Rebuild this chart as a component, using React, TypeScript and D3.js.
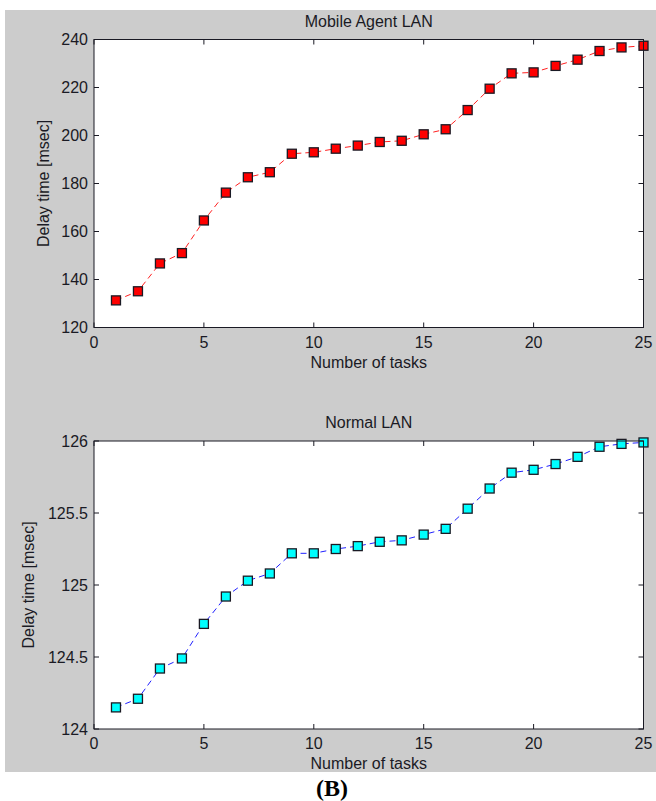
import React from 'react';
import * as d3 from 'd3';

// number of tasks, 1..25
const tasks = [1, 2, 3, 4, 5, 6, 7, 8, 9, 10, 11, 12, 13, 14, 15, 16, 17, 18, 19, 20, 21, 22, 23, 24, 25];

// delay time [msec]
const mobileAgentDelay = [
  131.3, 135.1, 146.7, 151.0, 164.6, 176.2, 182.6, 184.7, 192.4, 193.0, 194.5, 195.8, 197.3,
  197.8, 200.5, 202.6, 210.6, 219.5, 225.9, 226.3, 229.0, 231.6, 235.2, 236.7, 237.4,
];
const normalLanDelay = [
  124.15, 124.21, 124.42, 124.49, 124.73, 124.92, 125.03, 125.08, 125.22, 125.22, 125.25, 125.27, 125.3,
  125.31, 125.35, 125.39, 125.53, 125.67, 125.78, 125.8, 125.84, 125.89, 125.96, 125.98, 125.99,
];

const xTicks = [0, 5, 10, 15, 20, 25];
const mobileYTicks = [120, 140, 160, 180, 200, 220, 240];
const normalYTicks = [124, 124.5, 125, 125.5, 126];

const W = 656;
const H = 801;
const FONT = "'Liberation Sans', Arial, sans-serif";
const INK = '#1a1a24';

type PanelProps = {
  title: string;
  values: number[];
  yTicks: number[];
  top: number;
  bottom: number;
  lineColor: string;
  markerColor: string;
  yLabelX: number;
};

function Panel({ title, values, yTicks, top, bottom, lineColor, markerColor, yLabelX }: PanelProps) {
  const left = 94;
  const right = 643.5;
  const x = d3.scaleLinear().domain([0, 25]).range([left, right]);
  const y = d3
    .scaleLinear()
    .domain([yTicks[0], yTicks[yTicks.length - 1]])
    .range([bottom, top]);

  const line = d3
    .line<number>()
    .x((d, i) => x(tasks[i]))
    .y((d) => y(d));

  const tick = 5;
  const ms = 9;

  return (
    <g>
      <rect x={left} y={top} width={right - left} height={bottom - top} fill="#fff" />
      <path d={line(values) || ''} fill="none" stroke={lineColor} strokeWidth={1} strokeDasharray="6 4" />
      {values.map((v, i) => (
        <rect
          key={i}
          x={x(tasks[i]) - ms / 2}
          y={y(v) - ms / 2}
          width={ms}
          height={ms}
          fill={markerColor}
          stroke={INK}
          strokeWidth={1.3}
        />
      ))}
      <rect x={left} y={top} width={right - left} height={bottom - top} fill="none" stroke={INK} strokeWidth={1} />

      {xTicks.map((t) => (
        <g key={'x' + t}>
          <line x1={x(t)} x2={x(t)} y1={bottom} y2={bottom - tick} stroke={INK} />
          <line x1={x(t)} x2={x(t)} y1={top} y2={top + tick} stroke={INK} />
          <text x={x(t)} y={bottom + 20} textAnchor="middle" fontSize={16} fill={INK}>
            {t}
          </text>
        </g>
      ))}
      {yTicks.map((t) => (
        <g key={'y' + t}>
          <line x1={left} x2={left + tick} y1={y(t)} y2={y(t)} stroke={INK} />
          <line x1={right} x2={right - tick} y1={y(t)} y2={y(t)} stroke={INK} />
          <text x={left - 6} y={y(t)} dy="0.36em" textAnchor="end" fontSize={16} fill={INK}>
            {t}
          </text>
        </g>
      ))}

      <text x={(left + right) / 2} y={top - 13} textAnchor="middle" fontSize={16} fill={INK}>
        {title}
      </text>
      <text x={(left + right) / 2} y={bottom + 40} textAnchor="middle" fontSize={16} fill={INK}>
        Number of tasks
      </text>
      <text
        transform={`translate(${yLabelX},${(top + bottom) / 2}) rotate(-90)`}
        textAnchor="middle"
        fontSize={16}
        fill={INK}
      >
        Delay time [msec]
      </text>
    </g>
  );
}

export default function App() {
  return (
    <svg
      width={W}
      height={H}
      viewBox={`0 0 ${W} ${H}`}
      style={{ position: 'absolute', left: 0, top: 0, fontFamily: FONT }}
    >
      <rect x={0} y={0} width={W} height={H} fill="#fff" />
      <rect x={5} y={10} width={W - 5} height={762} fill="#cccccc" />
      <Panel
        title="Mobile Agent LAN"
        values={mobileAgentDelay}
        yTicks={mobileYTicks}
        top={39.5}
        bottom={327.5}
        lineColor="#ff2020"
        markerColor="#ff0000"
        yLabelX={49}
      />
      <Panel
        title="Normal LAN"
        values={normalLanDelay}
        yTicks={normalYTicks}
        top={441}
        bottom={729}
        lineColor="#2020ff"
        markerColor="#00ffff"
        yLabelX={34}
      />
      <text x={332} y={796} textAnchor="middle" fontSize={24} fontWeight="bold" fontFamily="'Liberation Serif', 'Times New Roman', serif">
        (B)
      </text>
    </svg>
  );
}
